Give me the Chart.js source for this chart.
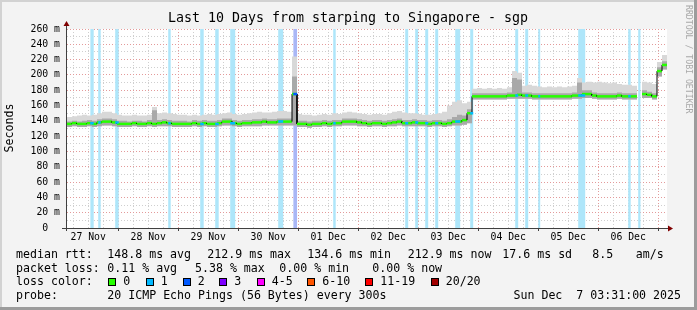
<!DOCTYPE html>
<html>
<head>
<meta charset="utf-8">
<script src="https://cdn.jsdelivr.net/npm/chart.js@4/dist/chart.umd.min.js"></script>
<style>
  html, body { margin: 0; padding: 0; background: #f3f3f3; }
  canvas { display: block; }
</style>
</head>
<body>
<canvas id="smoke" width="697" height="310"></canvas>
<script>
// time axis in hours after 27 Nov 00:00, graph ends Sun Dec 7 03:31
const START = 3.517;
const END = 243.517;
const BIN = 2; // hours per value below

const dayLabels = ['27 Nov', '28 Nov', '29 Nov', '30 Nov', '01 Dec', '02 Dec', '03 Dec', '04 Dec', '05 Dec', '06 Dec'];
const xTickHours = [6, 12, 18, 24, 30, 36, 42, 48, 54, 60, 66, 72, 78, 84, 90, 96, 102, 108, 114, 120,
  126, 132, 138, 144, 150, 156, 162, 168, 174, 180, 186, 192, 198, 204, 210, 216, 222, 228, 234, 240];
const yTicks = [0, 10, 20, 30, 40, 50, 60, 70, 80, 90, 100, 110, 120, 130, 140, 150, 160, 170, 180, 190,
  200, 210, 220, 230, 240, 250, 260];

// median rtt (ms), one value per 2 hours
const median = [
  136, 137, 136, 136, 137, 136, 138, 139, 139, 138,
  136, 136, 136, 137, 136, 136, 137, 136, 137, 138,
  137, 136, 136, 136, 136, 137, 136, 137, 136, 136,
  137, 139, 139, 137, 136, 137, 137, 138, 138, 139,
  138, 138, 139, 139, 139, 175, 136, 136, 135, 136,
  136, 137, 136, 137, 137, 139, 139, 139, 138, 137,
  136, 137, 137, 136, 137, 138, 139, 137, 137, 138,
  137, 137, 136, 137, 137, 136, 137, 139, 139, 141,
  150, 172, 172, 172, 172, 172, 172, 172, 173, 173,
  174, 173, 173, 172, 172, 172, 172, 172, 172, 172,
  172, 173, 173, 175, 175, 173, 172, 172, 172, 172,
  173, 172, 172, 172, null, 175, 174, 172, 205, 213
];
// outer smoke (slowest pings)
const smokeMax = [
  145, 146, 147, 148, 147, 148, 150, 152, 152, 150,
  148, 147, 147, 148, 147, 147, 148, 158, 150, 151,
  150, 149, 148, 148, 147, 148, 147, 148, 149, 148,
  149, 150, 151, 149, 148, 149, 150, 151, 152, 151,
  151, 152, 153, 153, 152, 224, 149, 148, 148, 147,
  148, 149, 148, 150, 149, 151, 152, 151, 150, 149,
  148, 149, 149, 148, 150, 152, 153, 151, 150, 150,
  149, 148, 148, 149, 150, 152, 160, 165, 167, 163,
  165, 182, 183, 182, 183, 182, 183, 182, 184, 205,
  203, 186, 187, 186, 185, 184, 185, 184, 185, 184,
  185, 186, 196, 190, 191, 190, 191, 190, 189, 190,
  188, 187, 187, 186, null, 191, 190, 188, 217, 226
];
// inner (darker) smoke
const smokeMid = [
  139, 140, 139, 140, 141, 140, 142, 143, 143, 142,
  140, 140, 139, 140, 140, 139, 141, 154, 141, 142,
  141, 140, 140, 140, 139, 141, 140, 141, 140, 140,
  141, 143, 143, 141, 140, 141, 141, 142, 142, 143,
  142, 142, 143, 143, 143, 198, 140, 140, 139, 140,
  140, 141, 140, 141, 141, 143, 143, 143, 142, 141,
  140, 141, 141, 140, 141, 142, 143, 141, 141, 142,
  141, 141, 140, 141, 141, 140, 142, 145, 148, 147,
  155, 176, 176, 176, 176, 176, 176, 176, 177, 196,
  194, 177, 177, 176, 176, 176, 176, 176, 176, 176,
  176, 177, 190, 180, 180, 177, 176, 176, 176, 176,
  177, 176, 176, 176, null, 180, 178, 176, 210, 218
];
// fastest pings
const smokeMin = [
  132, 133, 132, 132, 133, 132, 133, 134, 134, 133,
  132, 132, 132, 133, 132, 132, 133, 132, 133, 133,
  133, 132, 132, 132, 132, 133, 132, 133, 132, 132,
  133, 134, 134, 133, 132, 133, 133, 133, 133, 134,
  134, 134, 134, 134, 134, 134, 132, 132, 131, 132,
  132, 133, 132, 133, 133, 134, 134, 134, 133, 133,
  132, 133, 133, 132, 133, 133, 134, 133, 133, 133,
  133, 133, 132, 133, 133, 132, 133, 134, 134, 135,
  137, 168, 168, 168, 168, 168, 168, 168, 169, 169,
  169, 169, 169, 168, 168, 168, 168, 168, 168, 168,
  168, 169, 169, 170, 170, 169, 168, 168, 168, 168,
  169, 168, 168, 168, null, 170, 170, 168, 198, 207
];

// packet loss periods (hours) and loss colour level
const lossStart = [12.8, 16.0, 22.8, 44.0, 56.8, 62.8, 68.8, 88.0, 94.0, 110.0, 138.8, 142.8, 146.8, 150.8,
  158.8, 164.8, 182.8, 186.8, 192.0, 208.0, 228.0, 232.0];
const lossEnd = [14.2, 17.0, 24.2, 45.0, 58.2, 64.2, 70.8, 90.0, 95.6, 111.0, 140.0, 144.0, 148.0, 152.0,
  160.8, 166.0, 184.0, 188.0, 192.8, 210.8, 229.0, 233.0];
const lossLevel = [1, 1, 1, 1, 1, 1, 1, 1, 2, 1, 1, 1, 1, 1, 1, 1, 1, 1, 1, 1, 1, 1];

const lossColors = ['#26ff00', '#00b8ff', '#0059ff', '#7e00ff', '#ff00ff', '#ff5500', '#ff0000', '#a10000'];
const lossNames = ['0', '1', '2', '3', '4-5', '6-10', '11-19', '20/20'];

const MONO = '"DejaVu Sans Mono", monospace';

function stepPoints(values) {
  const pts = [];
  values.forEach((v, i) => {
    const x0 = START + i * BIN;
    if (v === null) { pts.push({ x: x0 + BIN / 2, y: null }); return; }
    pts.push({ x: x0, y: v }, { x: x0 + BIN, y: v });
  });
  return pts;
}

function lossBars(level) {
  const pts = [];
  lossStart.forEach((s, i) => {
    if (lossLevel[i] !== level) return;
    pts.push({ x: s, y: 0 }, { x: s, y: 260 }, { x: lossEnd[i], y: 260 }, { x: lossEnd[i], y: 0 });
  });
  return pts;
}

function medianAt(h) {
  const i = Math.min(Math.max(Math.floor((h - START) / BIN), 0), median.length - 1);
  return median[i];
}

function lossMarks(level) {
  const pts = [];
  lossStart.forEach((s, i) => {
    if (lossLevel[i] !== level) return;
    const v = medianAt((s + lossEnd[i]) / 2);
    pts.push({ x: s, y: v }, { x: lossEnd[i], y: v }, { x: lossEnd[i] + 0.01, y: null });
  });
  return pts;
}

const isVertical = c => c.p0.parsed.x === c.p1.parsed.x;

// background, axes with arrows, title and the rrdtool legend
const rrdFrame = {
  id: 'rrdFrame',
  beforeDraw(chart) {
    const { ctx, width, height, chartArea: a } = chart;
    ctx.save();
    ctx.fillStyle = '#f3f3f3';
    ctx.fillRect(0, 0, width, height);
    ctx.fillStyle = '#ffffff';
    ctx.fillRect(a.left, a.top, a.right - a.left, a.bottom - a.top);
    ctx.restore();
  },
  afterDraw(chart) {
    const { ctx, width, height, chartArea: a } = chart;
    ctx.save();

    // axes
    ctx.strokeStyle = '#404040';
    ctx.lineWidth = 1;
    ctx.beginPath();
    ctx.moveTo(a.left - 0.5, a.bottom + 3);
    ctx.lineTo(a.left - 0.5, a.top - 5);
    ctx.moveTo(a.left - 5, a.bottom + 0.5);
    ctx.lineTo(a.right + 4, a.bottom + 0.5);
    ctx.stroke();
    ctx.fillStyle = '#800000';
    ctx.beginPath();
    ctx.moveTo(a.left - 0.5, a.top - 8);
    ctx.lineTo(a.left - 3.5, a.top - 3);
    ctx.lineTo(a.left + 2.5, a.top - 3);
    ctx.closePath();
    ctx.fill();
    ctx.beginPath();
    ctx.moveTo(a.right + 6, a.bottom + 0.5);
    ctx.lineTo(a.right + 1, a.bottom - 2.5);
    ctx.lineTo(a.right + 1, a.bottom + 3.5);
    ctx.closePath();
    ctx.fill();

    // title
    ctx.fillStyle = '#000';
    ctx.textBaseline = 'middle';
    ctx.textAlign = 'center';
    ctx.font = '13.3px ' + MONO;
    ctx.fillText('Last 10 Days from starping to Singapore - sgp', 348, 19);

    // vertical axis title
    ctx.save();
    ctx.translate(10, 128);
    ctx.rotate(-Math.PI / 2);
    ctx.font = '11.6px ' + MONO;
    ctx.fillText('Seconds', 0, 0);
    ctx.restore();

    // watermark
    ctx.save();
    ctx.translate(688, 5);
    ctx.rotate(Math.PI / 2);
    ctx.textAlign = 'left';
    ctx.fillStyle = '#a8a8a8';
    ctx.font = '8.2px ' + MONO;
    ctx.fillText('RRDTOOL / TOBI OETIKER', 0, 0);
    ctx.restore();

    // legend
    ctx.textAlign = 'left';
    ctx.font = '11.6px ' + MONO;
    const lines = [
      [255, [[16, 'median rtt:'], [107.3, '148.8 ms avg'], [207.3, '212.9 ms max'], [307.3, '134.6 ms min'],
        [407.7, '212.9 ms now'], [502.3, '17.6 ms sd'], [592.3, '8.5'], [635.7, 'am/s']]],
      [268.5, [[16, 'packet loss:'], [107.3, '0.11 % avg'], [195, '5.38 % max'], [279.3, '0.00 % min'],
        [372.3, '0.00 % now']]],
      [282, [[16, 'loss color:']]],
      [295.5, [[16, 'probe:'], [107.3, '20 ICMP Echo Pings (56 Bytes) every 300s']]]
    ];
    lines.forEach(([y, items]) => items.forEach(([x, t]) => ctx.fillText(t, x, y)));
    ctx.textAlign = 'right';
    ctx.fillText('Sun Dec  7 03:31:00 2025', 681, 295.5);
    ctx.textAlign = 'left';

    const boxX = [108.3, 145.7, 182.7, 219.3, 256.7, 307.3, 365.3, 430.7];
    boxX.forEach((x, i) => {
      ctx.fillStyle = lossColors[i];
      ctx.fillRect(Math.round(x), 278, 8, 8);
      ctx.strokeStyle = '#000';
      ctx.strokeRect(Math.round(x) + 0.5, 278.5, 7, 7);
      ctx.fillStyle = '#000';
      ctx.fillText(lossNames[i], x + 15, 282);
    });

    // 3d frame
    ctx.fillStyle = '#d2d2d2';
    ctx.fillRect(0, 0, width, 2);
    ctx.fillRect(0, 0, 2, height);
    ctx.fillStyle = '#9c9c9c';
    ctx.fillRect(width - 3, 0, 3, height);
    ctx.fillRect(0, height - 3, width, 3);
    ctx.restore();
  }
};

const ctx = document.getElementById('smoke').getContext('2d');
const chart = new Chart(ctx, {
  type: 'line',
  data: {
    datasets: [
      { label: 'loss', data: lossBars(1), fill: 'origin', backgroundColor: '#aee6fa',
        borderColor: 'rgba(0,0,0,0)', borderWidth: 1, order: 10 },
      { label: 'loss2', data: lossBars(2), fill: 'origin', backgroundColor: '#aab7f6',
        borderColor: 'rgba(0,0,0,0)', borderWidth: 1, order: 10 },
      { label: 'min', data: stepPoints(smokeMin), fill: false, borderColor: 'rgba(0,0,0,0)',
        borderWidth: 1, order: 9 },
      { label: 'smoke', data: stepPoints(smokeMax), fill: 2, backgroundColor: '#d8d8d8',
        borderColor: 'rgba(0,0,0,0)', borderWidth: 1, order: 8 },
      { label: 'smoke dark', data: stepPoints(smokeMid), fill: 2, backgroundColor: '#a9a9a9',
        borderColor: 'rgba(0,0,0,0)', borderWidth: 1, order: 7 },
      { label: 'median', data: stepPoints(median), fill: false, order: 3,
        borderColor: lossColors[0], borderWidth: 2.5,
        segment: {
          borderColor: c => isVertical(c) ? '#000000' : lossColors[0],
          borderWidth: c => isVertical(c) ? 1 : 2.5
        } },
      { label: 'loss 1', data: lossMarks(1), fill: false, borderColor: lossColors[1], borderWidth: 2.5, order: 2 },
      { label: 'loss 2', data: lossMarks(2), fill: false, borderColor: lossColors[2], borderWidth: 2.5, order: 1 }
    ]
  },
  options: {
    responsive: false,
    animation: false,
    devicePixelRatio: 1,
    spanGaps: false,
    layout: { padding: { top: 29, right: 30, bottom: 0, left: 0 } },
    elements: { point: { radius: 0 }, line: { tension: 0, borderCapStyle: 'butt' } },
    plugins: {
      legend: { display: false },
      tooltip: { enabled: false },
      title: { display: false }
    },
    scales: {
      x: {
        type: 'linear',
        min: START,
        max: END,
        afterBuildTicks: s => { s.ticks = xTickHours.map(v => ({ value: v })); },
        afterFit: s => { s.height = 82; },
        border: { display: false, dash: [1, 2] },
        grid: {
          color: c => c.tick && c.tick.value % 24 === 0 ? '#e39a9a' : '#cfcfcf',
          tickLength: 3,
          tickColor: c => c.tick && c.tick.value % 24 === 0 ? '#404040' : 'rgba(0,0,0,0)'
        },
        ticks: {
          autoSkip: false,
          maxRotation: 0,
          padding: 1,
          color: '#000',
          font: { family: MONO, size: 9.8 },
          callback: v => v % 24 === 12 ? dayLabels[(v - 12) / 24] : ''
        }
      },
      y: {
        min: 0,
        max: 260,
        afterBuildTicks: s => { s.ticks = yTicks.map(v => ({ value: v })); },
        afterFit: s => { s.width = 67; },
        border: { display: false, dash: [1, 2] },
        grid: {
          drawTicks: false,
          color: c => c.tick && c.tick.value % 20 === 0 ? '#e39a9a' : '#cfcfcf'
        },
        ticks: {
          autoSkip: false,
          padding: 7,
          color: '#000',
          font: { family: MONO, size: 9.8 },
          callback: v => v % 20 ? '' : (v ? v + ' m' : '0  ')
        }
      }
    }
  },
  plugins: [rrdFrame]
});
</script>
</body>
</html>
